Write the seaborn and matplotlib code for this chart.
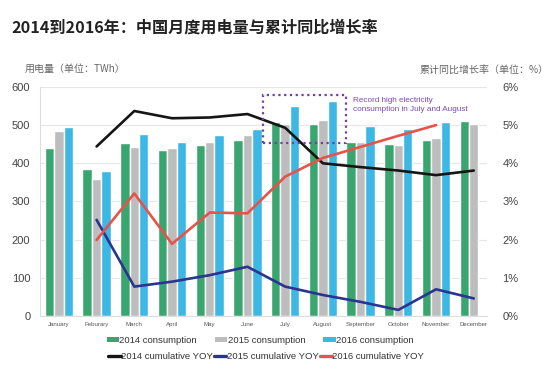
import numpy as np
import pandas as pd
import matplotlib
matplotlib.use("Agg")
import matplotlib.pyplot as plt
from matplotlib.patches import Patch, Rectangle
from matplotlib.lines import Line2D
from matplotlib.ticker import FuncFormatter
import seaborn as sns

months = ["January", "Feburary", "March", "April", "May", "June", "July",
          "August", "September", "October", "November", "December"]
cons_2014 = [439, 384, 454, 435, 448, 462, 509, 502, 456, 451, 462, 511]
cons_2015 = [485, 359, 443, 441, 457, 473, 504, 513, 455, 449, 465, 503]
cons_2016 = [494, 381, 476, 456, 473, 491, 550, 563, 497, 489, 507, np.nan]
yoy_2014 = [np.nan, 4.44, 5.37, 5.18, 5.20, 5.29, 4.93, 4.00, 3.90, 3.81, 3.69, 3.81]
yoy_2015 = [np.nan, 2.52, 0.77, 0.90, 1.07, 1.29, 0.77, 0.55, 0.37, 0.16, 0.70, 0.46]
yoy_2016 = [np.nan, 1.99, 3.21, 1.89, 2.71, 2.69, 3.65, 4.14, 4.43, 4.72, 5.00, np.nan]
bar_labels = ["2014 consumption", "2015 consumption", "2016 consumption"]
line_labels = ["2014 cumulative YOY", "2015 cumulative YOY", "2016 cumulative YOY"]
left_ticks = [0, 100, 200, 300, 400, 500, 600]
right_ticks = [0, 1, 2, 3, 4, 5, 6]

bar_colors = ["#3aa66f", "#bdbdbd", "#3db8e5"]
line_colors = ["#151515", "#2b3590", "#e5534b"]

sns.set_theme(style="white")
plt.rcParams["font.family"] = ["Liberation Sans", "Noto Sans CJK SC", "DejaVu Sans"]

df = pd.DataFrame({
    "month": months * 3,
    "value": cons_2014 + cons_2015 + cons_2016,
    "series": [bar_labels[0]] * 12 + [bar_labels[1]] * 12 + [bar_labels[2]] * 12,
})

fig = plt.figure(figsize=(5.57, 3.78), dpi=100)
ax = fig.add_axes([0.0718, 0.164, 0.8025, 0.606])

sns.barplot(data=df, x="month", y="value", hue="series", order=months,
            hue_order=bar_labels, palette=bar_colors, width=0.75,
            saturation=1, ax=ax, legend=False, zorder=2)
ax.set_xlim(-0.5, 11.35)
ax.set_ylim(0, 600)
ax.set_yticks(left_ticks)
ax.set_xlabel("")
ax.set_ylabel("")
ax.grid(axis="y", color="#e6e6e6", lw=0.8, zorder=0)
ax.set_axisbelow(True)
for s in ["top", "right"]:
    ax.spines[s].set_visible(False)
for s in ["left", "bottom"]:
    ax.spines[s].set_color("#dddddd")
    ax.spines[s].set_linewidth(0.8)
ax.tick_params(axis="x", length=0, pad=4, labelsize=4.4, labelcolor="#555555")
ax.tick_params(axis="y", length=0, pad=7, labelsize=8, labelcolor="#444444")

ax2 = ax.twinx()
idx = np.arange(len(months))
for vals, col in zip([yoy_2014, yoy_2015, yoy_2016], line_colors):
    sns.lineplot(x=idx, y=vals, ax=ax2, color=col, lw=1.9)
ax2.set_ylim(0, 6)
ax2.set_yticks(right_ticks)
ax2.yaxis.set_major_formatter(FuncFormatter(lambda v, p: f"{int(v)}%"))
ax2.tick_params(axis="y", length=0, pad=11, labelsize=8, labelcolor="#444444")
ax2.set_ylabel("")
for s in ["top", "right", "left", "bottom"]:
    ax2.spines[s].set_visible(False)
ax2.set_xlim(-0.5, 11.35)

# annotation box
rect = Rectangle((5.42, 452), 2.2, 127, transform=ax.transData, fill=False,
                 edgecolor="#7a3aa8", lw=1.6, linestyle=(0, (1, 1.6)), zorder=5)
ax2.add_patch(rect)
ax2.text(7.8, 573, "Record high electricity\nconsumption in July and August",
         transform=ax.transData, fontsize=5.9, color="#7a4aa8",
         va="top", ha="left", linespacing=1.3)

# titles
fig.text(0.021, 0.926, "2014到2016年：中国月度用电量与累计同比增长率",
         fontsize=11.6, fontweight="bold", color="#222222",
         family=["Noto Sans CJK SC", "DejaVu Sans"], va="center", ha="left")
fig.text(0.045, 0.817, "用电量（单位：TWh）", fontsize=7.2, color="#666666",
         family=["Noto Sans CJK SC", "DejaVu Sans"], va="center", ha="left")
fig.text(0.985, 0.815, "累计同比增长率（单位：%）", fontsize=7.2, color="#666666",
         family=["Noto Sans CJK SC", "DejaVu Sans"], va="center", ha="right")

# legends
bar_handles = [Patch(facecolor=c, edgecolor="none") for c in bar_colors]
line_handles = [Line2D([0], [0], color=c, lw=2.4) for c in line_colors]
leg1 = fig.legend(bar_handles, bar_labels, loc="center", ncol=3,
                  bbox_to_anchor=(0.467, 0.100), frameon=False, fontsize=6.8,
                  handlelength=1.3, handleheight=0.45, handletextpad=0.05,
                  columnspacing=1.9, borderpad=0, labelcolor="#333333")
leg2 = fig.legend(line_handles, line_labels, loc="center", ncol=3,
                  bbox_to_anchor=(0.478, 0.056), frameon=False, fontsize=6.8,
                  handlelength=1.3, handletextpad=0.05, columnspacing=0.1,
                  borderpad=0, labelcolor="#333333")

fig.savefig("out.png", dpi=100, facecolor="white")
